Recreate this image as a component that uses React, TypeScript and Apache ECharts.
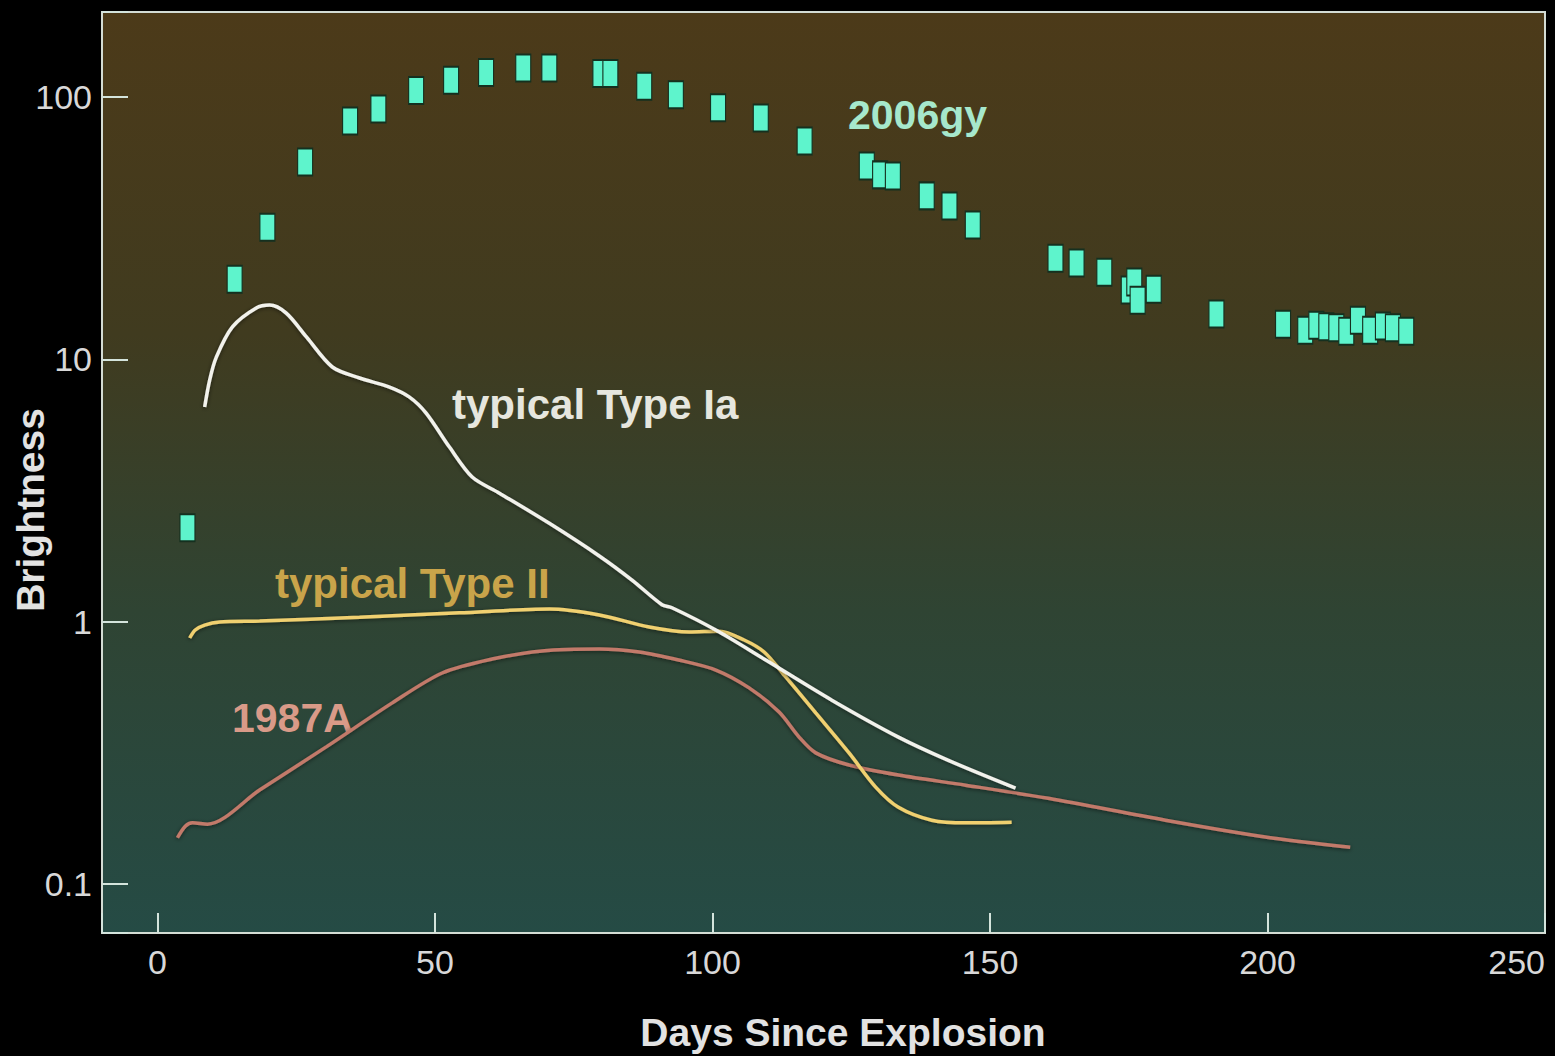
import React, { useEffect, useRef } from "react";
import * as echarts from "echarts";

// ---- Data ----
const gyDays = [5.4, 13.9, 19.8, 26.6, 34.7, 39.8, 46.6, 52.9, 59.2, 65.9, 70.6, 79.8, 81.6, 87.7, 93.4, 101.0, 108.7, 116.6, 127.8, 130.2, 132.5, 138.6, 142.7, 146.9, 161.8, 165.6, 170.6, 175.0, 176.0, 176.6, 179.5, 190.8, 202.8, 206.8, 208.8, 210.6, 212.4, 214.2, 216.3, 218.5, 220.8, 222.6, 225.0];
const gyBright = [2.28, 20.2, 31.9, 56.5, 81.0, 90.0, 106, 116, 124, 129, 129, 123, 123, 110, 102, 91.0, 83.2, 68, 54.6, 50.5, 50.0, 42, 38.4, 32.5, 24.3, 23.3, 21.5, 18.4, 19.7, 16.8, 18.5, 14.9, 13.6, 12.9, 13.5, 13.3, 13.2, 12.8, 14.1, 12.9, 13.4, 13.2, 12.8];

const iaDays = [8.5, 9.4, 10.6, 13.5, 17.8, 20.2, 23.2, 26.8, 31.5, 36.4, 41.8, 45.4, 48.4, 52.6, 56.7, 61.6, 70.6, 79.6, 85.5, 90.9, 92.7, 100.6, 109.6, 121.5, 133.5, 142.5, 154.6];
const iaBright = [6.58, 8.34, 10.2, 13.3, 15.7, 16.1, 15.0, 12.2, 9.35, 8.49, 7.84, 7.18, 6.24, 4.63, 3.56, 3.09, 2.37, 1.78, 1.44, 1.16, 1.13, 0.929, 0.714, 0.502, 0.363, 0.296, 0.232];

const iiDays = [5.8, 6.8, 8.5, 11.2, 18.4, 36.4, 54.4, 70.6, 79.6, 88.6, 95.8, 101.2, 105.7, 109.3, 112.9, 118.6, 124.6, 129.4, 133.5, 139.5, 145.6, 153.9];
const iiBright = [0.866, 0.929, 0.97, 0.996, 1.005, 1.04, 1.08, 1.117, 1.06, 0.954, 0.913, 0.92, 0.851, 0.766, 0.626, 0.449, 0.316, 0.234, 0.196, 0.175, 0.171, 0.172];

const snDays = [3.6, 5.0, 6.3, 9.0, 18.4, 30.4, 42.3, 51.3, 60.3, 69.3, 79.6, 86.8, 93.9, 100.6, 106.6, 112.0, 115.6, 118.6, 124.6, 133.5, 145.6, 160.5, 181.6, 199.6, 214.9];
const snBright = [0.15, 0.166, 0.171, 0.169, 0.228, 0.333, 0.49, 0.637, 0.72, 0.773, 0.786, 0.766, 0.714, 0.654, 0.559, 0.452, 0.363, 0.316, 0.284, 0.26, 0.238, 0.212, 0.175, 0.151, 0.138];

const xTickLabels = ["0", "50", "100", "150", "200", "250"];
const yTickLabels = ["0.1", "1", "10", "100"];

const zip = (xs: number[], ys: number[]) => xs.map((x, i) => [x, ys[i]]);

export default function App() {
  const ref = useRef<HTMLDivElement>(null);
  useEffect(() => {
    document.body.style.margin = "0";
    document.body.style.background = "#000";
    const chart = echarts.init(ref.current!, null, { renderer: "svg" });
    const font = "'Liberation Sans', Arial, Helvetica, sans-serif";
    const lineShadow = { shadowColor: "rgba(0,0,0,0.55)", shadowBlur: 4, shadowOffsetY: 1 };
    chart.setOption({
      animation: false,
      backgroundColor: "#000",
      grid: {
        left: 102,
        right: 10,
        top: 12,
        bottom: 123,
        outerBoundsMode: "none",
        containLabel: false,
        show: true,
        borderColor: "#d4dcd4",
        borderWidth: 2,
        backgroundColor: {
          type: "linear",
          x: 0, y: 0, x2: 0, y2: 1,
          colorStops: [
            { offset: 0, color: "#4c3a19" },
            { offset: 0.35, color: "#403b1f" },
            { offset: 0.65, color: "#2f4433" },
            { offset: 1, color: "#254b45" },
          ],
        },
      },
      xAxis: {
        type: "value",
        min: -10,
        max: 250,
        splitLine: { show: false },
        axisLine: { show: true, onZero: false, lineStyle: { color: "#d4dcd4", width: 2 } },
        axisTick: { show: true, inside: true, length: 20, lineStyle: { color: "#d4e4dc", width: 2 } },
        axisLabel: {
          color: "#d8d8d8",
          fontSize: 34,
          fontFamily: font,
          margin: 12,
          alignMaxLabel: "right",
          formatter: (v: number) => (xTickLabels.includes(String(Math.round(v))) && Math.abs(v - Math.round(v)) < 1e-6 ? String(Math.round(v)) : ""),
        },
      },
      yAxis: {
        type: "log",
        min: 0.065,
        max: 211,
        splitLine: { show: false },
        axisLine: { show: true, onZero: false, lineStyle: { color: "#d4dcd4", width: 2 } },
        axisTick: { show: true, inside: true, length: 26, lineStyle: { color: "#d4e4dc", width: 2 } },
        axisLabel: {
          color: "#d8d8d8",
          fontSize: 34,
          fontFamily: font,
          margin: 10,
          formatter: (v: number) => {
            const l = Math.log10(v);
            const e = Math.round(l);
            if (Math.abs(l - e) > 1e-6) return "";
            const s = e < 0 ? Math.pow(10, e).toFixed(-e) : String(Math.pow(10, e));
            return yTickLabels.includes(s) ? s : "";
          },
        },
      },
      graphic: [
        { type: "text", left: 848, top: 94, style: { text: "2006gy", fill: "#a6e8cc", font: `bold 41px ${font}` } },
        { type: "text", left: 452, top: 383, style: { text: "typical Type Ia", fill: "#e6e6de", font: `bold 42px ${font}` } },
        { type: "text", left: 275, top: 562, style: { text: "typical Type II", fill: "#c9a44a", font: `bold 42px ${font}` } },
        { type: "text", left: 232, top: 697, style: { text: "1987A", fill: "#d99a88", font: `bold 41px ${font}` } },
        {
          type: "text",
          x: 30,
          y: 510,
          rotation: Math.PI / 2,
          style: { text: "Brightness", fill: "#e2e2e2", font: `bold 39px ${font}`, align: "center", verticalAlign: "middle" },
        },
        {
          type: "text",
          x: 843,
          y: 1032,
          style: { text: "Days Since Explosion", fill: "#e2e2e2", font: `bold 39px ${font}`, align: "center", verticalAlign: "middle" },
        },
      ],
      series: [
        {
          name: "1987A",
          type: "line",
          data: zip(snDays, snBright),
          smooth: 0.3,
          showSymbol: false,
          lineStyle: { color: "#c27a6a", width: 3.5, ...lineShadow },
          z: 3,
        },
        {
          name: "typical Type II",
          type: "line",
          data: zip(iiDays, iiBright),
          smooth: 0.3,
          showSymbol: false,
          lineStyle: { color: "#f0d070", width: 3.5, ...lineShadow },
          z: 4,
        },
        {
          name: "typical Type Ia",
          type: "line",
          data: zip(iaDays, iaBright),
          smooth: 0.3,
          showSymbol: false,
          lineStyle: { color: "#f2f2ec", width: 3.5, ...lineShadow },
          z: 5,
        },
        {
          name: "2006gy",
          type: "scatter",
          data: zip(gyDays, gyBright),
          symbol: "rect",
          symbolSize: [15, 27],
          itemStyle: { color: "#5ef4cc", opacity: 1, borderColor: "#15301f", borderWidth: 1.5 },
          z: 6,
        },
      ],
    });
    return () => chart.dispose();
  }, []);
  return <div ref={ref} style={{ width: 1555, height: 1056, background: "#000" }} />;
}
